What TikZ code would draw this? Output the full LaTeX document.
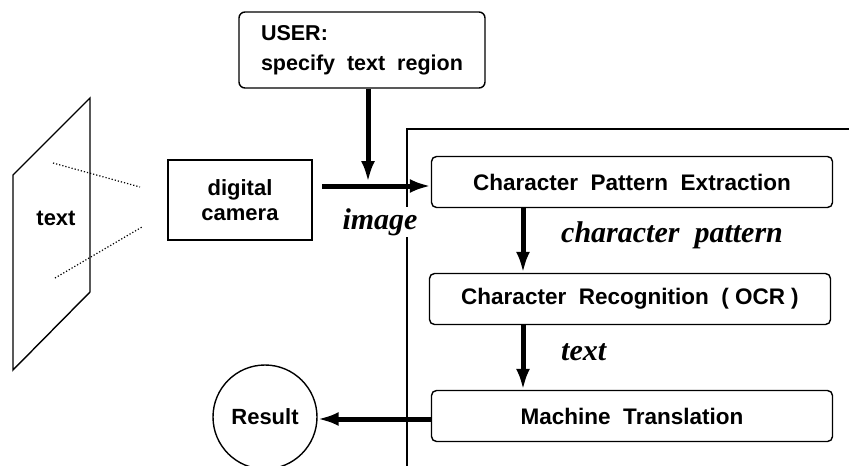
\documentclass[tikz,border=0pt]{standalone}
\usepackage{fontspec}
\setmainfont{Liberation Serif}
\newfontfamily\boxfont{Liberation Sans}
\usetikzlibrary{arrows.meta}

\begin{document}
\begin{tikzpicture}[x=1pt,y=-1pt,
        procbox/.style={draw, line width=1.4pt, rounded corners=5pt, minimum width=401pt, minimum height=51pt,
            font=\boxfont\bfseries\fontsize{22.5}{26}\selectfont},
        flowarrow/.style={line width=5pt, -{Latex[length=21pt,width=14pt]}},
        flowlabel/.style={font=\bfseries\itshape\fontsize{30}{32}\selectfont, inner sep=1pt}]
        \useasboundingbox (0,0) rectangle (849,466);
        % sheet with the text
        \draw[line width=1.4pt] (13,175) -- (90,98) -- (90,292) -- (13,370) -- cycle;
        \node[font=\boxfont\bfseries\fontsize{22}{24}\selectfont] (sheet) at (56,218) {text};
        \coordinate (s1) at (53,163);
        \coordinate (s2) at (55,278);
        \coordinate (c1) at (140,187);
        \coordinate (c2) at (142,227);
        \draw[line width=1.2pt, dotted] (s1) -- (c1);
        \draw[line width=1.2pt, dotted] (s2) -- (c2);
        % camera and user
        \node[draw, line width=1.6pt, minimum width=144pt, minimum height=80pt, align=center,
            font=\boxfont\bfseries\fontsize{22}{25}\selectfont] (camera) at (240,200) {digital\\camera};
        \node[draw, line width=1.4pt, rounded corners=6pt, minimum width=246pt, minimum height=76pt, align=left,
            font=\boxfont\bfseries\fontsize{21.5}{30}\selectfont] (user) at (362,50) {USER:\\specify\ \ text\ \ region};
        % frame of the system
        \draw[line width=1.4pt] (849,129) -- (407,129) -- (407,466);
        % processing steps
        \node[procbox] (cpe) at (632,182) {Character\ \ Pattern\ \ Extraction};
        \node[procbox] (ocr) at (630,299) {Character\ \ Recognition\ \ ( OCR )};
        \node[procbox] (mt) at (632,416) {Machine\ \ Translation};
        \node[draw, circle, line width=1.4pt, minimum size=104pt,
            font=\boxfont\bfseries\fontsize{22}{24}\selectfont] (result) at (265,417) {Result};
        \coordinate (join) at (368,182);
        \coordinate (start) at (322,186);
        \draw[flowarrow] (start) -- (cpe.west |- start);
        \draw[flowarrow] (user.south -| join) -- (join);
        \draw[flowarrow] (cpe.south -| 523,0) -- (ocr.north -| 523,0);
        \draw[flowarrow] (ocr.south -| 523,0) -- (mt.north -| 523,0);
        \draw[flowarrow] (mt.west |- 0,419) -- (result.east |- 0,419);
        \node[flowlabel, fill=white] (imglabel) at (380,222) {image};
        \node[flowlabel, anchor=west] (cplabel) at (560,235) {character\ \ pattern};
        \node[flowlabel, anchor=west] (txtlabel) at (560,352) {text};
    \end{tikzpicture}
\end{document}
